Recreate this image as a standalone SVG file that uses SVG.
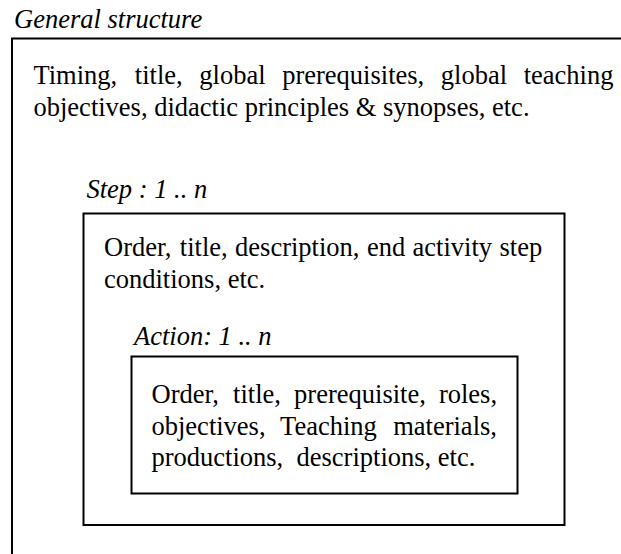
<svg xmlns="http://www.w3.org/2000/svg" width="621" height="554" viewBox="0 0 621 554">
  <style>
    .box { fill: #ffffff; stroke: #000000; stroke-width: 2; }
    .body { font-family: "Liberation Serif", "Times New Roman", serif; font-size: 26.5px; fill: #000000; }
    .label { font-family: "Liberation Serif", "Times New Roman", serif; font-size: 26.5px; font-style: italic; fill: #000000; }
  </style>
  <rect width="621" height="554" fill="#ffffff"/>

  <!-- Outer frame: general structure (continues past the right and bottom edges) -->
  <g id="general-structure">
    <text class="label" x="14" y="28">General structure</text>
    <rect class="box" x="12" y="38.5" width="700" height="600"/>
    <text class="body" y="84">
      <tspan x="33.5">Timing,</tspan>
      <tspan x="134.8">title,</tspan>
      <tspan x="199.3">global</tspan>
      <tspan x="282.2">prerequisites,</tspan>
      <tspan x="440.8">global</tspan>
      <tspan x="523.7">teaching</tspan>
    </text>
    <text class="body" x="33.5" y="115.5">objectives, didactic principles &amp; synopses, etc.</text>
  </g>

  <!-- Step level -->
  <g id="step">
    <text class="label" x="86.5" y="197.5">Step : 1 .. n</text>
    <rect class="box" x="83.5" y="213.5" width="481" height="311.5"/>
    <text class="body" y="256">
      <tspan x="104">Order,</tspan>
      <tspan x="179.8">title,</tspan>
      <tspan x="235.1">description,</tspan>
      <tspan x="366.9">end</tspan>
      <tspan x="412.6">activity</tspan>
      <tspan x="499.5">step</tspan>
    </text>
    <text class="body" x="104" y="287.5">conditions, etc.</text>
  </g>

  <!-- Action level -->
  <g id="action">
    <text class="label" x="134" y="345">Action: 1 .. n</text>
    <rect class="box" x="131.5" y="356.5" width="386" height="137"/>
    <text class="body" y="403">
      <tspan x="151.5">Order,</tspan>
      <tspan x="233.1">title,</tspan>
      <tspan x="294.1">prerequisite,</tspan>
      <tspan x="438.9">roles,</tspan>
    </text>
    <text class="body" y="434.5">
      <tspan x="151.5">objectives,</tspan>
      <tspan x="280.1">Teaching</tspan>
      <tspan x="393.2">materials,</tspan>
    </text>
    <text class="body" y="466">
      <tspan x="151.5">productions,</tspan>
      <tspan x="296.5">descriptions,</tspan>
      <tspan x="437.8">etc.</tspan>
    </text>
  </g>
</svg>
